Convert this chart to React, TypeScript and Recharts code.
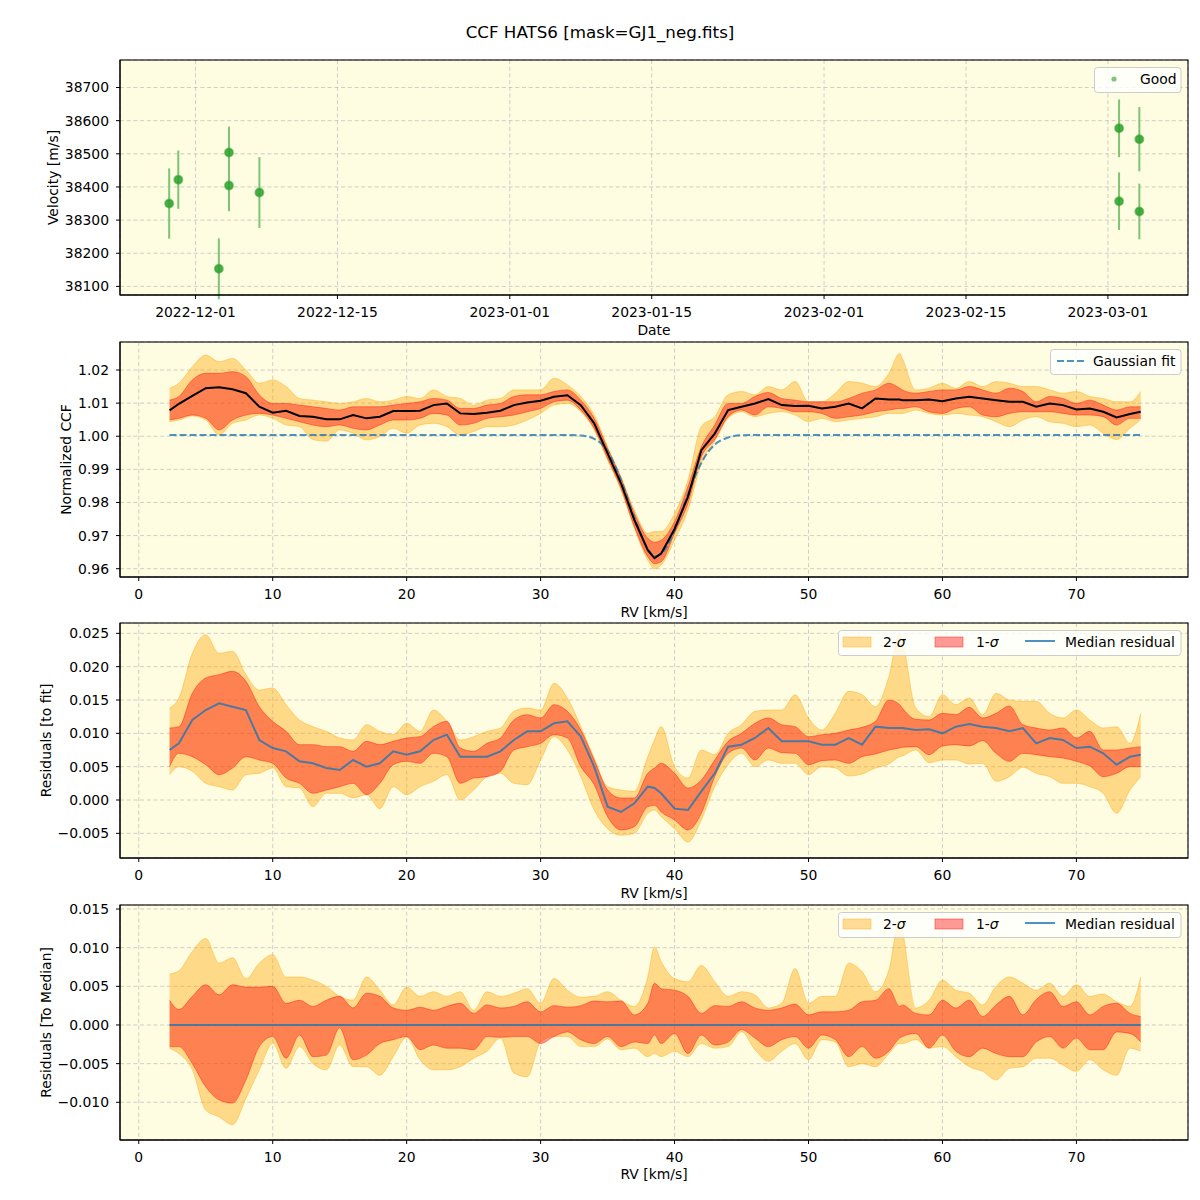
import { Area, CartesianGrid, ComposedChart, ErrorBar, Line, Scatter, XAxis, YAxis } from "recharts";

// ---- top panel: RV time series (days since 2022-12-01) ----
const rvDays = [-2.6, -1.7, 2.3, 3.3, 3.3, 6.3, 91.1, 91.1, 93.1, 93.1];
const rvVals = [38350, 38422, 38153, 38504, 38404, 38383, 38577, 38357, 38544, 38326];
const rvErrs = [106, 88, 92, 78, 77, 107, 87, 87, 97, 84];
const dateTicks = [0, 14, 31, 45, 62, 76, 90];
const dateLabels = ["2022-12-01", "2022-12-15", "2023-01-01", "2023-01-15", "2023-02-01", "2023-02-15", "2023-03-01"];
const velTicks = [38100, 38200, 38300, 38400, 38500, 38600, 38700];

// ---- RV grid for the CCF panels (km/s) ----
const rv = [
  2.3, 3, 4, 5, 6, 7, 8, 9, 10, 11,
  12, 13, 14, 15, 16, 17, 18, 19, 20, 21,
  22, 23, 24, 25, 26, 27, 28, 29, 30, 31,
  32, 33, 34, 35, 36, 37, 38,
  38.5, 39, 40,
  41, 42, 43, 44, 45, 46, 47, 48, 49, 50,
  51, 52, 53, 54, 55, 56,
  56.8, 57,
  58, 59, 60, 61, 62, 63, 64, 65, 66, 67,
  68, 69, 70, 71, 72, 73, 74, 74.8,
];
const rvTicks = [0, 10, 20, 30, 40, 50, 60, 70];

// normalized CCF
const ccfMed = [
  1.0078, 1.0098, 1.0122, 1.0145, 1.0148, 1.0142, 1.013, 1.0089, 1.0071, 1.0077,
  1.0061, 1.0059, 1.0051, 1.0051, 1.0064, 1.0054, 1.0059, 1.0076, 1.0076, 1.0077,
  1.0094, 1.0099, 1.0069, 1.0067, 1.0071, 1.0077, 1.0094, 1.0102, 1.0107, 1.0119,
  1.0124, 1.0094, 1.0039, 0.9948, 0.9858, 0.9747, 0.9656,
  0.9632, 0.9646, 0.972,
  0.9817, 0.9958, 1.0008, 1.0079, 1.0089, 1.0099, 1.0112, 1.0094, 1.0091, 1.0092,
  1.0084, 1.0089, 1.0099, 1.0084, 1.0114, 1.0111,
  1.0111, 1.0109,
  1.0109, 1.0111, 1.0106, 1.0114, 1.0119, 1.0114, 1.0109, 1.0104, 1.0104, 1.0089,
  1.0099, 1.0094, 1.0081, 1.0084, 1.0074, 1.0057, 1.0067, 1.0074,
];
const ccfHi1 = [
  1.0109, 1.012, 1.017, 1.019, 1.019, 1.0195, 1.018, 1.0125, 1.0099, 1.0099,
  1.0094, 1.0089, 1.0084, 1.0079, 1.0089, 1.0089, 1.0089, 1.0094, 1.0099, 1.0104,
  1.0114, 1.0109, 1.0084, 1.0084, 1.0094, 1.0099, 1.012, 1.0125, 1.0125, 1.0135,
  1.014, 1.0109, 1.0054, 0.9963, 0.9873, 0.9767, 0.9692,
  0.968, 0.9686, 0.9742,
  0.9848, 0.9968, 1.0034, 1.0099, 1.0099, 1.012, 1.0132, 1.0114, 1.0109, 1.0104,
  1.0104, 1.0104, 1.0114, 1.013, 1.014, 1.016,
  1.0145, 1.014,
  1.013, 1.0135, 1.014, 1.014, 1.015, 1.014, 1.013, 1.0145, 1.0135, 1.0104,
  1.012, 1.0114, 1.0099, 1.0109, 1.0094, 1.0079, 1.0089, 1.0089,
];
const ccfLo1 = [
  1.0049, 1.0054, 1.0064, 1.0054, 1.0019, 1.0049, 1.0064, 1.0069, 1.0064, 1.0054,
  1.0044, 1.0034, 1.0029, 1.0034, 1.0024, 1.0019, 1.0034, 1.0049, 1.0049, 1.0054,
  1.0069, 1.0064, 1.0034, 1.0039, 1.0054, 1.0059, 1.0064, 1.0074, 1.0084, 1.0104,
  1.0109, 1.0079, 1.0024, 0.9933, 0.9843, 0.9727, 0.9636,
  0.9615, 0.9621, 0.9707,
  0.9797, 0.9938, 0.999, 1.0059, 1.0079, 1.0064, 1.0089, 1.0084, 1.0074, 1.0074,
  1.0069, 1.0054, 1.0059, 1.0064, 1.0074, 1.0079,
  1.0084, 1.0084,
  1.0089, 1.0074, 1.0069, 1.0084, 1.0089, 1.0064, 1.0059, 1.0069, 1.0074, 1.0074,
  1.0074, 1.0069, 1.0064, 1.0064, 1.0059, 1.0034, 1.0054, 1.0054,
];
const ccfHi2 = [
  1.0145, 1.016, 1.021, 1.0245, 1.0225, 1.0235, 1.02, 1.016, 1.017, 1.015,
  1.0114, 1.0109, 1.0104, 1.0099, 1.0104, 1.0114, 1.0104, 1.0109, 1.012, 1.0114,
  1.014, 1.012, 1.0114, 1.0094, 1.0109, 1.0114, 1.014, 1.014, 1.014, 1.0175,
  1.0155, 1.012, 1.0064, 0.9968, 0.9878, 0.9777, 0.9707,
  0.9712, 0.9712, 0.9767,
  0.9868, 1.0029, 1.0059, 1.0125, 1.0135, 1.0125, 1.015, 1.014, 1.0165, 1.0104,
  1.0104, 1.013, 1.0165, 1.016, 1.015, 1.019,
  1.025, 1.0235,
  1.014, 1.0145, 1.016, 1.0145, 1.0165, 1.015, 1.0165, 1.016, 1.015, 1.015,
  1.014, 1.013, 1.0135, 1.012, 1.0114, 1.0104, 1.0104, 1.0135,
];
const ccfLo2 = [
  1.0044, 1.0049, 1.0061, 1.0049, 1.0004, 1.0039, 1.0049, 1.0064, 1.0054, 1.0034,
  1.0029, 0.999, 0.9985, 1.0019, 1.0009, 0.9989, 0.9999, 1.0024, 1.0009, 1.0034,
  1.0039, 1.0029, 1.0004, 1.0014, 1.0029, 1.0029, 1.0034, 1.0049, 1.0069, 1.0094,
  1.0099, 1.0074, 1.0019, 0.9928, 0.9838, 0.9722, 0.9626,
  0.96, 0.9611, 0.9686,
  0.9777, 0.9918, 0.9985, 1.0054, 1.0074, 1.0059, 1.0069, 1.0074, 1.0064, 1.0044,
  1.0054, 1.0044, 1.0049, 1.0054, 1.0059, 1.0069,
  1.0069, 1.0069,
  1.0079, 1.0069, 1.0064, 1.0069, 1.0064, 1.0059, 1.0044, 1.0029, 1.0049, 1.0059,
  1.0044, 1.0039, 1.0029, 1.0034, 1.0009, 0.999, 1.0024, 1.0049,
];
const gaussRv = [2.3, 32, 33, 34, 35, 36, 37, 38, 38.5, 39, 40, 41, 42, 43, 44, 45, 46, 74.8];
const gaussVal = [1.0004, 1.0004, 1.0002, 0.9992, 0.9955, 0.9868, 0.9755, 0.966, 0.9637, 0.9645, 0.9715, 0.9825, 0.992, 0.9975, 0.9996, 1.0003, 1.0004, 1.0004];
const ccfTicks = [0.96, 0.97, 0.98, 0.99, 1.0, 1.01, 1.02];

// residuals to fit
const resMed = [
  0.0075, 0.0085, 0.012, 0.0135, 0.0145, 0.014, 0.0135, 0.009, 0.0078, 0.0073,
  0.0058, 0.0055, 0.0048, 0.0045, 0.006, 0.005, 0.0055, 0.0073, 0.0068, 0.0073,
  0.009, 0.0098, 0.0065, 0.0065, 0.0065, 0.0073, 0.009, 0.0103, 0.0103, 0.0115,
  0.0118, 0.0095, 0.005, -0.001, -0.0018, -0.0005, 0.002,
  0.0018, 0.001, -0.0013,
  -0.0015, 0.0013, 0.004, 0.008, 0.0083, 0.0093, 0.0108, 0.0088, 0.0088, 0.0088,
  0.0083, 0.0083, 0.0093, 0.0083, 0.011, 0.0108,
  0.0108, 0.0108,
  0.0105, 0.0106, 0.01, 0.011, 0.0114, 0.011, 0.0108, 0.0103, 0.0108, 0.0085,
  0.0093, 0.009, 0.0078, 0.008, 0.007, 0.0053, 0.0065, 0.0068,
];
const resHi1 = [
  0.0108, 0.011, 0.016, 0.0183, 0.0188, 0.0193, 0.0178, 0.014, 0.0118, 0.0103,
  0.0083, 0.0083, 0.008, 0.008, 0.0073, 0.0088, 0.0083, 0.0088, 0.0093, 0.0095,
  0.011, 0.0118, 0.0078, 0.0073, 0.0085, 0.0093, 0.012, 0.0128, 0.0123, 0.0143,
  0.0133, 0.0105, 0.006, 0.0015, 0.0003, 0.0003, 0.004,
  0.0048, 0.0055, 0.004,
  0.0018, 0.003, 0.006, 0.0088, 0.01, 0.0115, 0.0123, 0.0113, 0.011, 0.0095,
  0.0098, 0.01, 0.0105, 0.0109, 0.0118, 0.015,
  0.0143, 0.0138,
  0.0121, 0.012, 0.013, 0.0128, 0.0139, 0.0123, 0.013, 0.0141, 0.0113, 0.0108,
  0.0105, 0.0108, 0.0093, 0.0103, 0.0075, 0.0075, 0.0078, 0.008,
];
const resLo1 = [
  0.005, 0.007, 0.0065, 0.0053, 0.0038, 0.0048, 0.0065, 0.006, 0.0055, 0.0033,
  0.0025, 0.001, 0.0015, 0.002, 0.0025, 0.0008, 0.0025, 0.0053, 0.0058, 0.0055,
  0.007, 0.0065, 0.0025, 0.0033, 0.0035, 0.0043, 0.0075, 0.008, 0.0085, 0.0098,
  0.0093, 0.005, 0.0023, -0.0025, -0.0045, -0.004, -0.001,
  -0.0008, -0.0018, -0.003,
  -0.0045, -0.002, 0.0035, 0.007, 0.0078, 0.006, 0.0078, 0.0071, 0.007, 0.0053,
  0.0059, 0.006, 0.0055, 0.0065, 0.0069, 0.0075,
  0.0078, 0.0079,
  0.008, 0.0068, 0.0081, 0.0083, 0.0081, 0.0089, 0.007, 0.0058, 0.007, 0.0068,
  0.0065, 0.0063, 0.0058, 0.0051, 0.0035, 0.004, 0.005, 0.005,
];
const resHi2 = [
  0.0138, 0.0153, 0.022, 0.0248, 0.022, 0.0223, 0.0188, 0.0165, 0.0168, 0.0143,
  0.012, 0.011, 0.0103, 0.0093, 0.009, 0.0113, 0.0103, 0.0098, 0.0115, 0.0103,
  0.0135, 0.0118, 0.009, 0.0095, 0.0103, 0.0108, 0.0133, 0.0138, 0.0135, 0.0175,
  0.0153, 0.011, 0.0063, 0.002, 0.0015, 0.0013, 0.0065,
  0.009, 0.011, 0.005,
  0.0033, 0.0075, 0.0068, 0.01, 0.0113, 0.0133, 0.0135, 0.0135, 0.0158, 0.0123,
  0.0105, 0.013, 0.0163, 0.0158, 0.014, 0.0185,
  0.025, 0.024,
  0.0138, 0.0125, 0.0158, 0.0143, 0.0153, 0.0128, 0.016, 0.015, 0.0148, 0.0148,
  0.013, 0.0123, 0.0135, 0.012, 0.0108, 0.011, 0.0085, 0.013,
];
const resLo2 = [
  0.0038, 0.005, 0.0043, 0.0025, 0.002, 0.0015, 0.0038, 0.004, 0.0048, 0.002,
  0.0018, -0.001, 0.001, 0.001, 0.0003, 0.0008, -0.0013, 0.002, 0.0008, 0.002,
  0.0028, 0.0038, 0.0, 0.0015, 0.0035, 0.004, 0.0025, 0.0023, 0.006, 0.0095,
  0.0075, 0.0035, -0.0015, -0.0043, -0.0053, -0.005, -0.002,
  -0.0015, -0.0025, -0.0043,
  -0.0063, -0.003, 0.002, 0.0053, 0.007, 0.005, 0.006, 0.0055, 0.0055, 0.0038,
  0.005, 0.0048, 0.0036, 0.0039, 0.0048, 0.0054,
  0.0065, 0.0066,
  0.0075, 0.0056, 0.006, 0.006, 0.0054, 0.0055, 0.0028, 0.0035, 0.0049, 0.004,
  0.0035, 0.0025, 0.0025, 0.002, 0.001, -0.002, 0.0015, 0.0035,
];
const resTicks = [-0.005, 0.0, 0.005, 0.01, 0.015, 0.02, 0.025];

// residuals to median
const medHi1 = [
  0.0032, 0.002, 0.0037, 0.0052, 0.0039, 0.0052, 0.0049, 0.0049, 0.005, 0.0028,
  0.0032, 0.0024, 0.0032, 0.0037, 0.0022, 0.0041, 0.0037, 0.0022, 0.0019, 0.0023,
  0.0019, 0.0024, 0.0028, 0.0015, 0.0026, 0.0022, 0.0024, 0.003, 0.0017, 0.0025,
  0.0023, 0.0025, 0.0031, 0.003, 0.0031, 0.0013, 0.0028,
  0.0054, 0.0047, 0.0045,
  0.0037, 0.0015, 0.0025, 0.0024, 0.003, 0.0022, 0.0019, 0.0022, 0.0027, 0.0013,
  0.0017, 0.0017, 0.0019, 0.003, 0.0032, 0.0047,
  0.0024, 0.0026,
  0.0015, 0.0013, 0.0032, 0.0022, 0.0032, 0.0011, 0.0026, 0.0037, 0.0013, 0.0033,
  0.0043, 0.0024, 0.003, 0.0013, 0.0024, 0.0028, 0.0015, 0.0011,
];
const medLo1 = [
  -0.0028, -0.0028, -0.005, -0.008, -0.0097, -0.0101, -0.0071, -0.0028, -0.0015, -0.0043,
  -0.0013, -0.0041, -0.0039, -0.0004, -0.0045, -0.0039, -0.0024, -0.0019, -0.0015, -0.0032,
  -0.0026, -0.003, -0.003, -0.0032, -0.0015, -0.0016, -0.0015, -0.0015, -0.0024, -0.0015,
  -0.0009, -0.0019, -0.0024, -0.0015, -0.0028, -0.0022, -0.0024,
  -0.0013, -0.0024, -0.0011,
  -0.0037, -0.0013, -0.0026, -0.0022, -0.0006, -0.0017, -0.0028, -0.0019, -0.0015, -0.003,
  -0.0013, -0.0019, -0.0041, -0.0028, -0.0043, -0.0034,
  -0.0017, -0.0015,
  -0.0011, -0.003, -0.0013, -0.0034, -0.0041, -0.003, -0.0037, -0.0041, -0.0041, -0.0022,
  -0.0015, -0.003, -0.0017, -0.0032, -0.0032, -0.0009, -0.0011, -0.0022,
];
const medHi2 = [
  0.0066, 0.007, 0.0095, 0.0112, 0.008, 0.0087, 0.006, 0.008, 0.0091, 0.0062,
  0.0062, 0.0058, 0.005, 0.0037, 0.0032, 0.0062, 0.0045, 0.0026, 0.0049, 0.0037,
  0.0043, 0.0037, 0.0043, 0.0019, 0.0043, 0.0037, 0.0041, 0.0047, 0.0028, 0.006,
  0.0045, 0.0036, 0.0037, 0.0043, 0.0032, 0.0024, 0.0062,
  0.0101, 0.0082, 0.006,
  0.0056, 0.0077, 0.0056, 0.0037, 0.0043, 0.0039, 0.0022, 0.0028, 0.0073, 0.0028,
  0.0037, 0.0037, 0.008, 0.0069, 0.0043, 0.0071,
  0.0135, 0.0123,
  0.0022, 0.0032, 0.0058, 0.0045, 0.0041, 0.0026, 0.005, 0.0062, 0.0054, 0.0045,
  0.0054, 0.0037, 0.0052, 0.0037, 0.004, 0.003, 0.0024, 0.0062,
];
const medLo2 = [
  -0.003, -0.0037, -0.0058, -0.011, -0.0119, -0.0129, -0.0095, -0.0058, -0.0024, -0.0056,
  -0.0028, -0.005, -0.0058, -0.0026, -0.0054, -0.0054, -0.0065, -0.0041, -0.0016, -0.0045,
  -0.0058, -0.0058, -0.0054, -0.0043, -0.0034, -0.0017, -0.0062, -0.0067, -0.0022, -0.0015,
  -0.0015, -0.0028, -0.0028, -0.0018, -0.0032, -0.003, -0.0041,
  -0.0037, -0.0041, -0.0034,
  -0.0041, -0.0024, -0.003, -0.0028, -0.0009, -0.0032, -0.0047, -0.0034, -0.0024, -0.0045,
  -0.0019, -0.0022, -0.0054, -0.005, -0.0054, -0.0037,
  -0.0024, -0.0024,
  -0.0019, -0.003, -0.0028, -0.0041, -0.0054, -0.006, -0.0071, -0.0056, -0.0054, -0.0043,
  -0.0043, -0.0052, -0.006, -0.0045, -0.0058, -0.0065, -0.003, -0.0034,
];
const zeroRv = [2.3, 74.8];
const zeroVal = [0, 0];
const medTicks = [-0.01, -0.005, 0.0, 0.005, 0.01, 0.015];

const FONT = "'DejaVu Sans', sans-serif";
const BG = "#fefce1";
const TICK = { fontSize: 13.9, fill: "#000", fontFamily: FONT };

const fmt = (d: number) => (v: number) => v.toFixed(d).replace("-", "\u2212");

const bandRows = (lo2: number[], lo1: number[], hi1: number[], hi2: number[], med?: number[]) =>
  rv.map((x, i) => ({ rv: x, s2: [lo2[i], hi2[i]], s1: [lo1[i], hi1[i]], med: med ? med[i] : null }));

const ccfRows = bandRows(ccfLo2, ccfLo1, ccfHi1, ccfHi2, ccfMed);
const resRows = bandRows(resLo2, resLo1, resHi1, resHi2, resMed);
const medRows = bandRows(medLo2, medLo1, medHi1, medHi2);
const gaussRows = gaussRv.map((x, i) => ({ rv: x, v: gaussVal[i] }));
const zeroRows = zeroRv.map((x, i) => ({ rv: x, v: zeroVal[i] }));
const rvPoints = rvDays.map((d, i) => ({ day: d, v: rvVals[i], err: rvErrs[i] }));

function Panel({ top, data, xKey, xDomain, xTicks, xFmt, yDomain, yTicks, yFmt, children }: any) {
  return (
    <div style={{ position: "absolute", left: 0, top }}>
      <ComposedChart width={1200} height={270} data={data} margin={{ top: 10, right: 12, bottom: 0, left: 60 }}>
        <CartesianGrid horizontal={false} vertical={false} fill={BG} fillOpacity={1} />
        {children}
        <CartesianGrid stroke="#b0b0b0" strokeOpacity={0.6} strokeDasharray="4 2.7" />
        <XAxis type="number" dataKey={xKey} domain={xDomain} ticks={xTicks} tickFormatter={xFmt} allowDataOverflow
          interval={0} height={25} tickSize={4} tickMargin={8} stroke="#000" tick={TICK} />
        <YAxis type="number" domain={yDomain} ticks={yTicks} tickFormatter={yFmt} allowDataOverflow
          interval={0} width={60} tickSize={4} tickMargin={7} stroke="#000" tick={TICK} />
      </ComposedChart>
    </div>
  );
}

function bands() {
  return [
    <Area key="s2" dataKey="s2" type="monotone" fill="#ffa500" fillOpacity={0.4} stroke="#ffa500" strokeOpacity={0.4}
      strokeWidth={1} dot={false} activeDot={false} isAnimationActive={false} />,
    <Area key="s1" dataKey="s1" type="monotone" fill="#ff0000" fillOpacity={0.4} stroke="#ff0000" strokeOpacity={0.4}
      strokeWidth={1} dot={false} activeDot={false} isAnimationActive={false} />,
  ];
}

const rvDot = (p: any) => (
  <circle cx={p.cx} cy={p.cy} r={4} fill="#2ca02c" fillOpacity={0.85} stroke="#2ca02c" strokeOpacity={0.55} strokeWidth={2} />
);

function SigmaLegend({ y }: { y: number }) {
  return (
    <g fontFamily={FONT} fontSize={13.9}>
      <rect x={838.5} y={y + 0.5} width={342.5} height={25} rx={3} fill="#fff" fillOpacity={0.8} stroke="#ccc" />
      <rect x={843} y={y + 7} width={28} height={10} fill="#ffa500" fillOpacity={0.4} stroke="#ffa500" strokeOpacity={0.4} />
      <text x={883} y={y + 17}>2-<tspan fontStyle="italic">σ</tspan></text>
      <rect x={935} y={y + 7} width={28} height={10} fill="#ff0000" fillOpacity={0.4} stroke="#ff0000" strokeOpacity={0.4} />
      <text x={976} y={y + 17}>1-<tspan fontStyle="italic">σ</tspan></text>
      <line x1={1025} x2={1055} y1={y + 11} y2={y + 11} stroke="#1f77b4" strokeOpacity={0.8} strokeWidth={2} />
      <text x={1065} y={y + 17}>Median residual</text>
    </g>
  );
}

function Overlay() {
  const frames = [60, 342, 623, 905];
  return (
    <svg width={1200} height={1200} style={{ position: "absolute", left: 0, top: 0, pointerEvents: "none" }}>
      {frames.map((t) => (
        <rect key={t} x={120} y={t} width={1068} height={235} fill="none" stroke="#000" strokeWidth={1.1} />
      ))}
      <text x={600} y={38} textAnchor="middle" fontFamily={FONT} fontSize={16.7}>CCF HATS6 [mask=GJ1_neg.fits]</text>
      <g fontFamily={FONT} fontSize={13.9} textAnchor="middle">
        <text x={654} y={335}>Date</text>
        <text x={654} y={617}>RV [km/s]</text>
        <text x={654} y={898}>RV [km/s]</text>
        <text x={654} y={1179}>RV [km/s]</text>
        <text transform="translate(58,177.5) rotate(-90)">Velocity [m/s]</text>
        <text transform="translate(71,459.5) rotate(-90)">Normalized CCF</text>
        <text transform="translate(51,740.5) rotate(-90)">Residuals [to fit]</text>
        <text transform="translate(51,1022.5) rotate(-90)">Residuals [To Median]</text>
      </g>
      <g fontFamily={FONT} fontSize={13.9}>
        <rect x={1094.5} y={67.5} width={86.5} height={25} rx={3} fill="#fff" fillOpacity={0.8} stroke="#ccc" />
        <circle cx={1114} cy={79} r={2.6} fill="#2ca02c" fillOpacity={0.6} />
        <text x={1140} y={84}>Good</text>
        <rect x={1050.5} y={349.5} width={130.5} height={25} rx={3} fill="#fff" fillOpacity={0.8} stroke="#ccc" />
        <line x1={1057} x2={1085} y1={361} y2={361} stroke="#1f77b4" strokeOpacity={0.8} strokeWidth={2} strokeDasharray="7 3" />
        <text x={1093} y={366}>Gaussian fit</text>
      </g>
      <SigmaLegend y={630} />
      <SigmaLegend y={912} />
    </svg>
  );
}

export default function App() {
  return (
    <div style={{ position: "absolute", left: 0, top: 0, width: 1200, height: 1200, background: "#fff" }}>
      <Panel top={50} xKey="day" xDomain={[-7.45, 97.9]} xTicks={dateTicks}
        xFmt={(v: number) => dateLabels[dateTicks.indexOf(v)]} yDomain={[38074, 38783]} yTicks={velTicks}
        yFmt={(v: number) => String(v)}>
        <Scatter data={rvPoints} dataKey="v" shape={rvDot} isAnimationActive={false}>
          <ErrorBar dataKey="err" direction="y" width={0} stroke="#7fc474" strokeWidth={2} />
        </Scatter>
      </Panel>
      <Panel top={332} data={ccfRows} xKey="rv" xDomain={[-1.4, 78.33]} xTicks={rvTicks} xFmt={(v: number) => String(v)}
        yDomain={[0.95749, 1.02846]} yTicks={ccfTicks} yFmt={fmt(2)}>
        {bands()}
        <Line data={gaussRows} dataKey="v" type="monotone" stroke="#1f77b4" strokeOpacity={0.8} strokeWidth={2}
          strokeDasharray="7 3" dot={false} activeDot={false} isAnimationActive={false} />
        <Line dataKey="med" type="linear" stroke="#000" strokeWidth={2} dot={false} activeDot={false} isAnimationActive={false} />
      </Panel>
      <Panel top={613} data={resRows} xKey="rv" xDomain={[-1.4, 78.33]} xTicks={rvTicks} xFmt={(v: number) => String(v)}
        yDomain={[-0.0087, 0.02655]} yTicks={resTicks} yFmt={fmt(3)}>
        {bands()}
        <Line dataKey="med" type="linear" stroke="#1f77b4" strokeOpacity={0.8} strokeWidth={2} dot={false} activeDot={false}
          isAnimationActive={false} />
      </Panel>
      <Panel top={895} data={medRows} xKey="rv" xDomain={[-1.4, 78.33]} xTicks={rvTicks} xFmt={(v: number) => String(v)}
        yDomain={[-0.01488, 0.01552]} yTicks={medTicks} yFmt={fmt(3)}>
        {bands()}
        <Line data={zeroRows} dataKey="v" type="linear" stroke="#1f77b4" strokeOpacity={0.8} strokeWidth={2} dot={false}
          activeDot={false} isAnimationActive={false} />
      </Panel>
      <Overlay />
    </div>
  );
}
